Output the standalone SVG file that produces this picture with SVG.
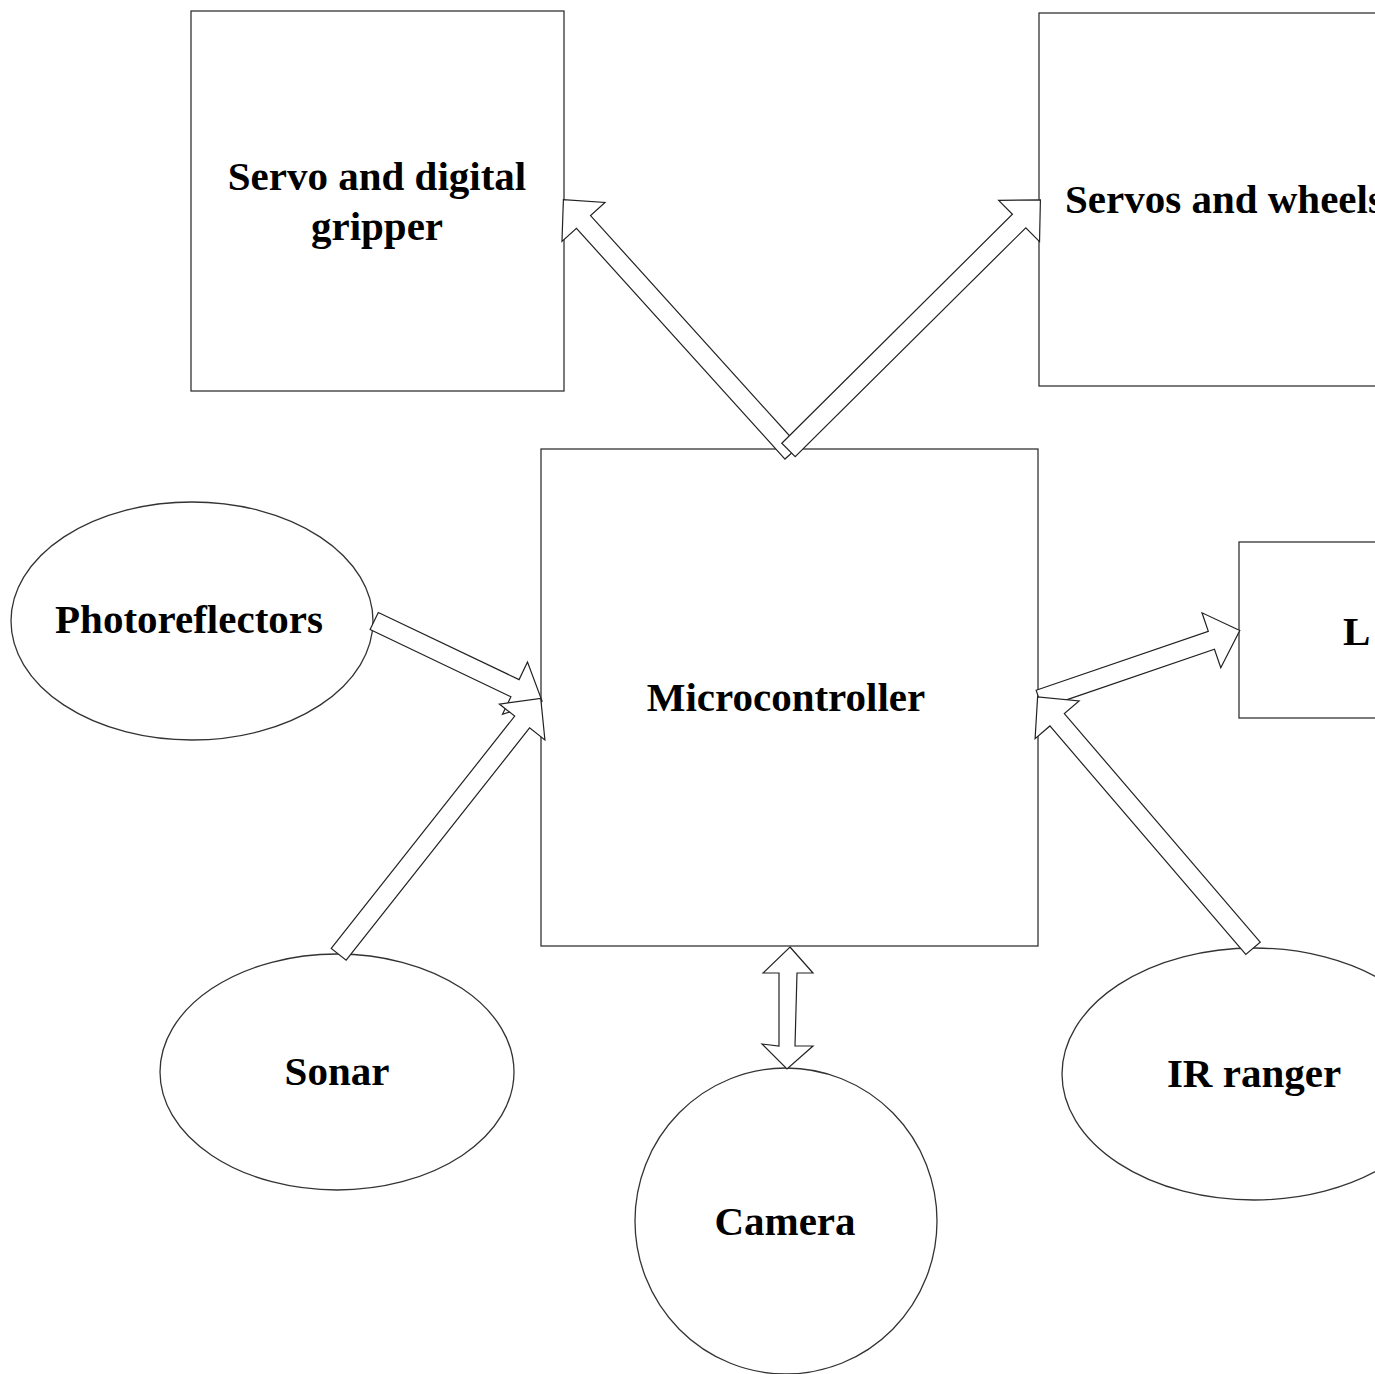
<svg xmlns="http://www.w3.org/2000/svg" width="1375" height="1374" viewBox="0 0 1375 1374">
<style>
.node{fill:#fff;stroke:#333;stroke-width:1.3}
.arr{fill:#fff;stroke:#222;stroke-width:1.2;stroke-linejoin:miter}
text{font-family:"Liberation Serif","Times New Roman",serif;font-weight:bold;font-size:41px;fill:#000}
.c{text-anchor:middle}
</style>
<rect width="1375" height="1374" fill="#fff"/>
<g id="gripper"><rect class="node" x="191" y="11" width="373" height="380"/><text class="c" x="377" y="190">Servo and digital</text><text class="c" x="377" y="240">gripper</text></g>
<g id="wheels"><rect class="node" x="1039" y="13" width="370" height="373"/><text x="1065" y="213">Servos and wheels</text></g>
<g id="lcd"><rect class="node" x="1239" y="542" width="200" height="176"/><text x="1343" y="645">L</text></g>
<g id="micro"><rect class="node" x="541" y="449" width="497" height="497"/><text class="c" x="786" y="711">Microcontroller</text></g>
<g id="photo"><ellipse class="node" cx="192" cy="621" rx="181" ry="119"/><text class="c" x="189" y="633">Photoreflectors</text></g>
<g id="sonar"><ellipse class="node" cx="337" cy="1072" rx="177" ry="118"/><text class="c" x="337" y="1085">Sonar</text></g>
<g id="camera"><ellipse class="node" cx="786" cy="1221" rx="151" ry="153"/><text class="c" x="785" y="1235">Camera</text></g>
<g id="ir"><ellipse class="node" cx="1254" cy="1074" rx="192" ry="126"/><text class="c" x="1254" y="1087">IR ranger</text></g>
<g id="connectors">
<polygon class="arr" transform="translate(792,452.7) rotate(-132.1)" points="0,-9.5 311,-9.5 311,-29 341,0 311,29 311,9.5 0,9.5"/>
<polygon class="arr" transform="translate(788.5,450) rotate(-44.8)" points="0,-9.5 325,-9.5 325,-29 355,0 325,29 325,9.5 0,9.5"/>
<polygon class="arr" transform="translate(374.2,621) rotate(25.5)" points="0,-9.5 156,-9.5 156,-29 186,0 156,29 156,9.5 0,9.5"/>
<polygon class="arr" transform="translate(338.7,954.3) rotate(-51.7)" points="0,-9.5 296,-9.5 296,-29 326,0 296,29 296,9.5 0,9.5"/>
<polygon class="arr" transform="translate(1039.2,699.2) rotate(-18.9)" points="0,-9.5 182,-9.5 182,-29 212,0 182,29 182,9.5 0,9.5"/>
<polygon class="arr" transform="translate(1253,948.3) rotate(-130.6)" points="0,-9.5 301,-9.5 301,-29 331,0 301,29 301,9.5 0,9.5"/>
<polygon class="arr" points="790,947 813,973 797,973 795,1046 813,1046 787,1069 762,1044 779,1046 779,973 763,973"/>
</g>
</svg>
